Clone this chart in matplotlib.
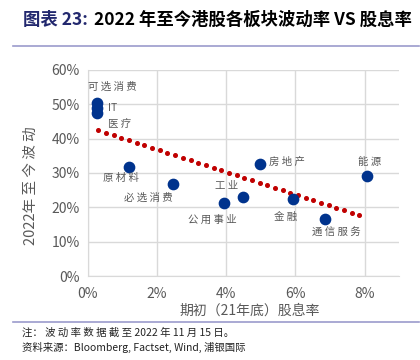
import numpy as np
import matplotlib.pyplot as plt
from matplotlib.ticker import FuncFormatter

plt.rcParams['font.family'] = ['Noto Sans CJK SC', 'DejaVu Sans']

# 板块、期初股息率 (%)、2022年至今波动率 (%)
sectors = ["可选消费", "IT", "医疗", "原材料", "必选消费", "公用事业",
           "工业", "房地产", "金融", "通信服务", "能源"]
div_yield = [0.26, 0.27, 0.27, 1.19, 2.46, 3.94, 4.49, 4.96, 5.94, 6.84, 8.06]
volatility = [50.4, 49.0, 47.5, 31.8, 26.8, 21.3, 23.0, 32.7, 22.4, 16.6, 29.2]

# 标签偏移 (点), 文字左端对齐
label_offsets = {
    "可选消费": (-6.5, 11.5), "IT": (8, 0), "医疗": (8, -8),
    "原材料": (-19, -8), "必选消费": (-35, -10),
    "公用事业": (-26, -12), "工业": (-20, 8),
    "房地产": (6.5, 1.5), "金融": (-14, -13),
    "通信服务": (-9, -10), "能源": (-6, 10),
}


def spaced(s):
    # 模仿原图中文字间距
    return " ".join(s) if all(ord(c) > 127 for c in s) else s


fig = plt.figure(figsize=(4.2, 3.6), dpi=100)
fig.patch.set_facecolor("white")

ax = fig.add_axes([0.2095, 0.233, 0.741, 0.573])

x = np.array(div_yield)
y = np.array(volatility)
k, b = np.polyfit(x, y, 1)
xt = np.linspace(0.3, 7.85, 35)
ax.plot(xt, k * xt + b, linestyle="none", marker="o", markersize=2.6,
        color="#c00000", zorder=2)

ax.scatter(x, y, s=55, color="#00338d", zorder=3)

for name, xi, yi in zip(sectors, x, y):
    dx, dy = label_offsets[name]
    ax.annotate(spaced(name), (xi, yi), xytext=(dx, dy), textcoords="offset points",
                fontsize=7.5, color="#595959", ha="left", va="center")

ax.set_xlim(0, 9)
ax.set_ylim(0, 60)
ax.set_xticks([0, 2, 4, 6, 8])
ax.set_yticks(range(0, 61, 10))
ax.xaxis.set_major_formatter(FuncFormatter(lambda v, p: f"{v:.0f}%"))
ax.yaxis.set_major_formatter(FuncFormatter(lambda v, p: f"{v:.0f}%"))
ax.tick_params(length=0, labelsize=10, colors="#595959")
ax.tick_params(axis="x", pad=8)
ax.tick_params(axis="y", pad=6)
ax.grid(True, color="#d9d9d9", linewidth=1)
ax.set_axisbelow(True)
for s in ["top", "right"]:
    ax.spines[s].set_visible(False)
for s in ["left", "bottom"]:
    ax.spines[s].set_color("#d9d9d9")

ax.set_xlabel("期初（21年底）股息率", fontsize=10, color="#595959", labelpad=-1)
ax.xaxis.set_label_coords(0.52, -0.135)
ax.set_ylabel("2022年 至 今 波 动", fontsize=10.5, color="#595959")
ax.yaxis.set_label_coords(-0.16, 0.44)

# 标题
t1 = fig.text(0.055, 0.945, "图表 23:", fontsize=12.5, fontweight="bold",
              color="#22286e", va="center")
fig.canvas.draw()
bb = t1.get_window_extent()
x2 = (bb.x1 + 6) / fig.bbox.width
fig.text(x2, 0.945, "2022 年至今港股各板块波动率 VS 股息率", fontsize=12.5,
         fontweight="bold", color="black", va="center")
fig.add_artist(plt.Line2D([0.031, 0.998], [0.871, 0.871], color="#9b9bcc",
                          linewidth=1.2))
fig.add_artist(plt.Line2D([0.031, 0.998], [0.106, 0.106], color="#9b9bcc",
                          linewidth=1.2))

fig.text(0.052, 0.077, "注： 波 动 率 数 据 截 至 2022 年 11 月 15 日。", fontsize=7.5,
         color="#222222", va="center")
fig.text(0.052, 0.034, "资料来源：Bloomberg, Factset, Wind, 浦银国际", fontsize=7.5,
         color="#222222", va="center")

fig.savefig("out.png", dpi=100)
